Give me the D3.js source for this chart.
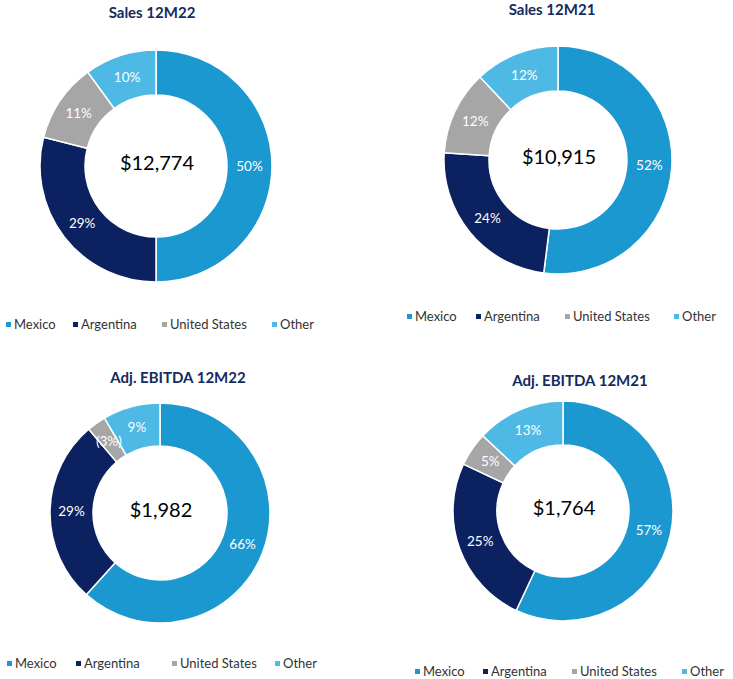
<!DOCTYPE html>
<html>
<head>
<meta charset="utf-8">
<script src="https://cdn.jsdelivr.net/npm/d3@7"></script>
<style>
  body { margin: 0; background: #fff; }
  svg { display: block; font-family: Lato, "Open Sans", sans-serif; }
</style>
</head>
<body>
<svg id="chart" width="733" height="679"></svg>
<script>
// data
const categories = ["Mexico", "Argentina", "United States", "Other"];
const titles = ["Sales 12M22", "Sales 12M21", "Adj. EBITDA 12M22", "Adj. EBITDA 12M21"];
const totals = ["$12,774", "$10,915", "$1,982", "$1,764"];
const sales12M22 = [50, 29, 11, 10];
const sales12M21 = [52, 24, 12, 12];
const ebitda12M22 = [66, 29, -3, 9];
const ebitda12M21 = [57, 25, 5, 13];
const series = [sales12M22, sales12M21, ebitda12M22, ebitda12M21];

const colors = ["#1b98d0", "#0c2160", "#a6a6a6", "#4db9e4"];

// layout for each of the four panels
const panels = [
    {tx: 152, ty: 18, cx: 156, cy: 166, R: 116, r: 71, ly: 329, lx: [6, 73, 162, 272]},
    {tx: 552, ty: 15, cx: 558, cy: 160, R: 114, r: 69, ly: 321, lx: [407, 476, 565, 674]},
    {tx: 178, ty: 383, cx: 160, cy: 513, R: 110, r: 67, ly: 668, lx: [7, 76, 172, 275]},
    {tx: 580, ty: 386, cx: 563, cy: 511, R: 110, r: 66, ly: 676, lx: [415, 483, 572, 682]}
];

const svg = d3.select("#chart");
const color = d3.scaleOrdinal().domain(categories).range(colors);

const pie = d3.pie()
    .sort(null)
    .value(d => Math.abs(d.value));

const fmt = v => v < 0 ? `(${Math.abs(v)}%)` : `${v}%`;

panels.forEach((p, i) => {
    const data = categories.map((c, k) => ({cat: c, value: series[i][k]}));
    const arc = d3.arc().innerRadius(p.r).outerRadius(p.R);
    const labelArc = d3.arc().innerRadius((p.r + p.R) / 2).outerRadius((p.r + p.R) / 2);

    // title
    svg.append("text")
        .attr("x", p.tx)
        .attr("y", p.ty)
        .attr("text-anchor", "middle")
        .attr("font-size", 15)
        .attr("font-weight", "bold")
        .attr("fill", "#132b5e")
        .text(titles[i]);

    const g = svg.append("g").attr("transform", `translate(${p.cx},${p.cy})`);

    g.selectAll("path")
        .data(pie(data))
        .join("path")
        .attr("d", arc)
        .attr("fill", d => color(d.data.cat))
        .attr("stroke", "#fff")
        .attr("stroke-width", 1.5);

    g.selectAll("text.lbl")
        .data(pie(data))
        .join("text")
        .attr("class", "lbl")
        .attr("transform", d => `translate(${labelArc.centroid(d)})`)
        .attr("text-anchor", "middle")
        .attr("dy", "0.35em")
        .attr("font-size", 13.5)
        .attr("fill", "#fff")
        .text(d => fmt(d.data.value));

    // total in the hole
    svg.append("text")
        .attr("x", p.cx + 1)
        .attr("y", p.cy + 4)
        .attr("text-anchor", "middle")
        .attr("font-size", 20)
        .attr("fill", "#000")
        .text(totals[i]);

    // legend
    const lg = svg.append("g");
    categories.forEach((c, k) => {
        lg.append("rect")
            .attr("x", p.lx[k])
            .attr("y", p.ly - 7)
            .attr("width", 5)
            .attr("height", 5)
            .attr("fill", color(c));
        lg.append("text")
            .attr("x", p.lx[k] + 8)
            .attr("y", p.ly)
            .attr("font-size", 13)
            .attr("fill", "#333")
            .text(c);
    });
});
</script>
</body>
</html>
